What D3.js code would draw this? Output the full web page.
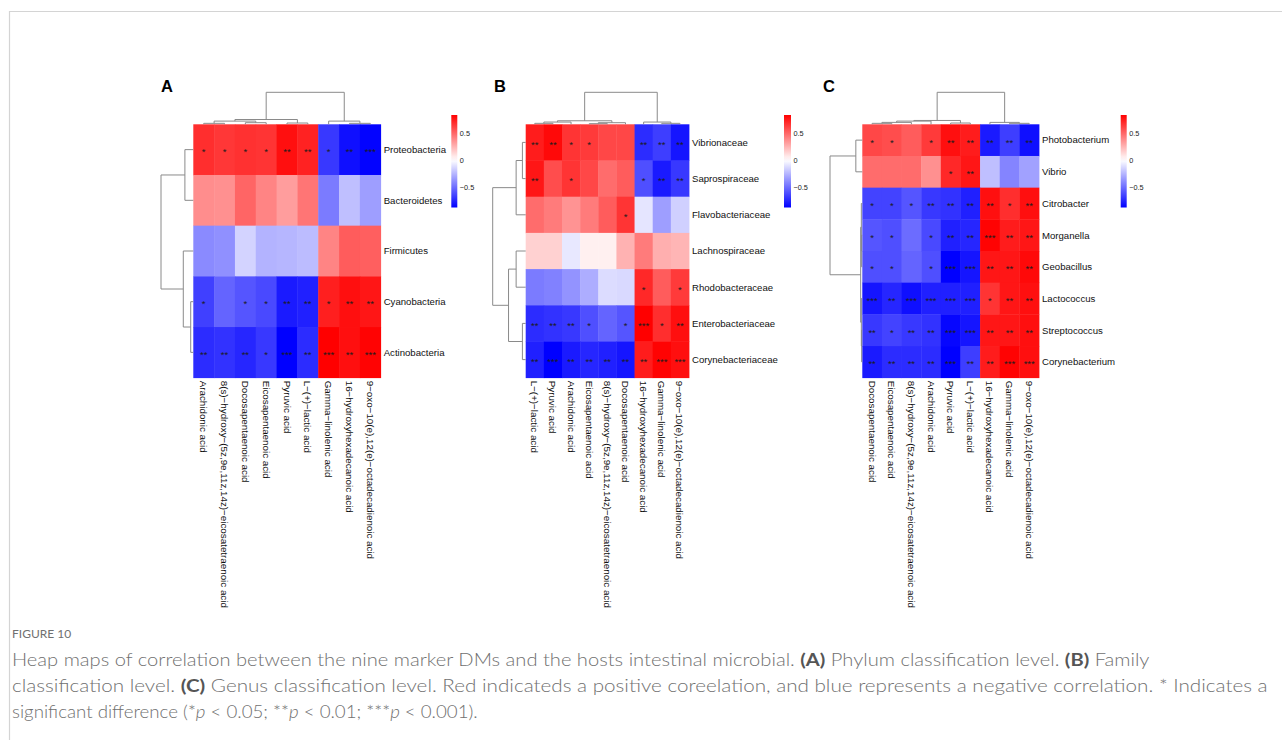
<!DOCTYPE html>
<html>
<head>
<meta charset="utf-8">
<script src="https://cdn.jsdelivr.net/npm/d3@7"></script>
<style>
  body { margin: 0; background: #fff; }
  svg { display: block; }
</style>
</head>
<body>
<script>
const width = 1282;
const height = 740;

// metabolite names (column labels)
const ARA = 'Arachidonic acid';
const HETE = '8(s)−hydroxy−(5z,9e,11z,14z)−eicosatetraenoic acid';
const DPA = 'Docosapentaenoic acid';
const EPA = 'Eicosapentaenoic acid';
const PYR = 'Pyruvic acid';
const LAC = 'L−(+)−lactic acid';
const GLA = 'Gamma−linolenic acid';
const HHD = '16−hydroxyhexadecanoic acid';
const OXO = '9−oxo−10(e),12(e)−octadecadienoic acid';

// colour legend
const legendDomain = [-0.87, 0, 0.83];
const legendTicks = [0.5, 0, -0.5];

// ---- panel A : phylum ----
const colsA = [ARA, HETE, DPA, EPA, PYR, LAC, GLA, HHD, OXO];
const rowsA = ['Proteobacteria', 'Bacteroidetes', 'Firmicutes', 'Cyanobacteria', 'Actinobacteria'];
const valuesA = [
  [0.68, 0.65, 0.67, 0.66, 0.78, 0.72, -0.68, -0.82, -0.86],
  [0.37, 0.36, 0.50, 0.40, 0.32, 0.45, -0.45, -0.22, -0.33],
  [-0.40, -0.38, -0.15, -0.26, -0.25, -0.23, 0.40, 0.53, 0.52],
  [-0.65, -0.53, -0.58, -0.62, -0.78, -0.76, 0.73, 0.78, 0.76],
  [-0.72, -0.70, -0.74, -0.68, -0.87, -0.72, 0.83, 0.78, 0.82]
];
const sigA = [
  [1, 1, 1, 1, 2, 2, 1, 2, 3],
  [0, 0, 0, 0, 0, 0, 0, 0, 0],
  [0, 0, 0, 0, 0, 0, 0, 0, 0],
  [1, 0, 1, 1, 2, 2, 1, 2, 2],
  [2, 2, 2, 1, 3, 2, 3, 2, 3]
];
// trees: [left, right, height], leaves are display indices
const colTreeA = [[[[0, 1, 0.03], [2, 3, 0.05], 0.1], [4, 5, 0.04], 0.15], [6, [7, 8, 0.03], 0.1], 1];
const rowTreeA = [[0, 1, 0.26], [2, [3, 4, 0.08], 0.31], 1];

// ---- panel B : family ----
const colsB = [LAC, PYR, ARA, EPA, HETE, DPA, HHD, GLA, OXO];
const rowsB = ['Vibrionaceae', 'Saprospiraceae', 'Flavobacteriaceae', 'Lachnospiraceae',
  'Rhodobacteraceae', 'Enterobacteriaceae', 'Corynebacteriaceae'];
const valuesB = [
  [0.74, 0.80, 0.66, 0.64, 0.60, 0.60, -0.72, -0.66, -0.80],
  [0.76, 0.58, 0.66, 0.60, 0.48, 0.53, -0.60, -0.78, -0.68],
  [0.48, 0.43, 0.35, 0.43, 0.53, 0.66, -0.09, -0.33, -0.16],
  [0.15, 0.15, -0.08, 0.05, 0.05, 0.25, 0.43, 0.26, 0.24],
  [-0.45, -0.43, -0.37, -0.28, -0.12, -0.13, 0.70, 0.53, 0.64],
  [-0.72, -0.70, -0.68, -0.60, -0.53, -0.58, 0.83, 0.68, 0.78],
  [-0.76, -0.87, -0.78, -0.74, -0.76, -0.80, 0.74, 0.82, 0.78]
];
const sigB = [
  [2, 2, 1, 1, 0, 0, 2, 2, 2],
  [2, 0, 1, 0, 0, 0, 1, 2, 2],
  [0, 0, 0, 0, 0, 1, 0, 0, 0],
  [0, 0, 0, 0, 0, 0, 0, 0, 0],
  [0, 0, 0, 0, 0, 0, 1, 0, 1],
  [2, 2, 2, 1, 0, 1, 3, 1, 2],
  [2, 3, 2, 2, 2, 2, 2, 3, 3]
];
const colTreeB = [[[[0, 1, 0.03], 2, 0.07], [[3, 4, 0.02], 5, 0.05], 0.11], [6, [7, 8, 0.03], 0.07], 1];
const rowTreeB = [[[0, 1, 0.10], 2, 0.29], [[3, 4, 0.29], [5, 6, 0.10], 0.52], 1];

// ---- panel C : genus ----
const colsC = [DPA, EPA, HETE, ARA, PYR, LAC, HHD, GLA, OXO];
const rowsC = ['Photobacterium', 'Vibrio', 'Citrobacter', 'Morganella', 'Geobacillus',
  'Lactococcus', 'Streptococcus', 'Corynebacterium'];
const valuesC = [
  [0.60, 0.58, 0.53, 0.64, 0.78, 0.74, -0.78, -0.66, -0.82],
  [0.48, 0.48, 0.48, 0.36, 0.70, 0.76, -0.22, -0.42, -0.32],
  [-0.64, -0.64, -0.58, -0.68, -0.70, -0.76, 0.78, 0.68, 0.78],
  [-0.58, -0.60, -0.50, -0.62, -0.76, -0.74, 0.82, 0.74, 0.76],
  [-0.60, -0.60, -0.53, -0.60, -0.87, -0.80, 0.76, 0.76, 0.80],
  [-0.80, -0.74, -0.82, -0.76, -0.76, -0.76, 0.66, 0.76, 0.78],
  [-0.68, -0.64, -0.68, -0.70, -0.85, -0.80, 0.76, 0.76, 0.78],
  [-0.78, -0.72, -0.72, -0.72, -0.87, -0.66, 0.74, 0.82, 0.78]
];
const sigC = [
  [1, 1, 0, 1, 2, 2, 2, 2, 2],
  [0, 0, 0, 0, 1, 2, 0, 0, 0],
  [1, 1, 1, 2, 2, 2, 2, 1, 2],
  [1, 1, 0, 1, 2, 2, 3, 2, 2],
  [1, 1, 0, 1, 3, 3, 2, 2, 2],
  [3, 2, 3, 3, 3, 3, 1, 2, 2],
  [2, 1, 2, 2, 3, 3, 2, 2, 2],
  [2, 2, 2, 2, 3, 2, 2, 3, 3]
];
const colTreeC = [[[[[0, 1, 0.03], 2, 0.06], 3, 0.1], [4, 5, 0.04], 0.12], [6, [7, 8, 0.03], 0.06], 1];
const rowTreeC = [[0, 1, 0.2], [[2, [3, 4, 0.02], 0.03], [5, [6, 7, 0.02], 0.03], 0.05], 1];

// layout of each panel
const panels = [
  { tag: 'A', cols: colsA, rows: rowsA, values: valuesA, sig: sigA, colTree: colTreeA, rowTree: rowTreeA,
    x0: 193.3, x1: 380.7, y0: 124.3, y1: 377.7, dendTop: 92.3, dendLeft: 161, lx: 451.3, lw: 6, tagX: 161 },
  { tag: 'B', cols: colsB, rows: rowsB, values: valuesB, sig: sigB, colTree: colTreeB, rowTree: rowTreeB,
    x0: 525.7, x1: 689, y0: 124.3, y1: 377.7, dendTop: 92.3, dendLeft: 492.7, lx: 784, lw: 7, tagX: 494 },
  { tag: 'C', cols: colsC, rows: rowsC, values: valuesC, sig: sigC, colTree: colTreeC, rowTree: rowTreeC,
    x0: 862.3, x1: 1039, y0: 124.3, y1: 377.7, dendTop: 92.3, dendLeft: 830, lx: 1120.7, lw: 6, tagX: 823 }
];

const color = d3.scaleLinear()
  .domain(legendDomain)
  .range(['#0000ff', '#ffffff', '#ff0000']);

const svg = d3.select('body').append('svg')
  .attr('width', width)
  .attr('height', height);

// frame of the figure box
svg.append('path')
  .attr('d', 'M9.5,740V11.5H1282')
  .attr('fill', 'none')
  .attr('stroke', '#d4d4d4')
  .attr('stroke-width', 1.2);

// gradient for the colour keys
const grad = svg.append('defs').append('linearGradient')
  .attr('id', 'key').attr('x1', 0).attr('x2', 0).attr('y1', 1).attr('y2', 0);
d3.range(0, 1.0001, 0.05).forEach(t => {
  const v = legendDomain[0] + t * (legendDomain[2] - legendDomain[0]);
  grad.append('stop').attr('offset', t).attr('stop-color', color(v));
});

// draws a dendrogram, returns position of the node
function drawTree(g, node, pos, hs, orient) {
  if (typeof node === 'number') return { c: pos(node), h: 0 };
  const a = drawTree(g, node[0], pos, hs, orient);
  const b = drawTree(g, node[1], pos, hs, orient);
  const h = node[2];
  const d = orient === 'top'
    ? `M${a.c},${hs(a.h)}V${hs(h)}H${b.c}V${hs(b.h)}`
    : `M${hs(a.h)},${a.c}H${hs(h)}V${b.c}H${hs(b.h)}`;
  g.append('path').attr('d', d)
    .attr('fill', 'none').attr('stroke', '#8a8a8a').attr('stroke-width', 1);
  return { c: (a.c + b.c) / 2, h };
}

panels.forEach(p => {
  const g = svg.append('g');
  const x = d3.scaleBand().domain(d3.range(p.cols.length)).range([p.x0, p.x1]);
  const y = d3.scaleBand().domain(d3.range(p.rows.length)).range([p.y0, p.y1]);

  const cells = [];
  p.values.forEach((row, i) => row.forEach((v, j) => cells.push({ i, j, v, s: p.sig[i][j] })));

  g.selectAll('rect.cell')
    .data(cells)
    .enter()
    .append('rect')
    .attr('x', d => x(d.j))
    .attr('y', d => y(d.i))
    .attr('width', x.bandwidth() + 0.4)
    .attr('height', y.bandwidth() + 0.4)
    .attr('fill', d => color(d.v));

  g.selectAll('text.star')
    .data(cells.filter(d => d.s > 0))
    .enter()
    .append('text')
    .attr('x', d => x(d.j) + x.bandwidth() / 2)
    .attr('y', d => y(d.i) + y.bandwidth() / 2 + 5.4)
    .attr('text-anchor', 'middle')
    .attr('font-family', 'Liberation Sans, Arial, sans-serif')
    .attr('font-size', 9.5)
    .attr('fill', '#1c1c1c')
    .text(d => '*'.repeat(d.s));

  // row labels
  g.selectAll('text.row')
    .data(p.rows)
    .enter()
    .append('text')
    .attr('x', p.x1 + 3)
    .attr('y', (d, i) => y(i) + y.bandwidth() / 2)
    .attr('dy', '0.35em')
    .attr('font-family', 'Liberation Sans, Arial, sans-serif')
    .attr('font-size', 9.6)
    .attr('fill', '#111')
    .text(d => d);

  // column labels, read top to bottom
  g.selectAll('text.col')
    .data(p.cols)
    .enter()
    .append('text')
    .attr('transform', (d, j) => `translate(${x(j) + x.bandwidth() / 2},${p.y1 + 3}) rotate(90)`)
    .attr('dy', '0.35em')
    .attr('font-family', 'Liberation Sans, Arial, sans-serif')
    .attr('font-size', 9.8)
    .attr('fill', '#111')
    .text(d => d);

  // dendrograms
  const colH = d3.scaleLinear().domain([0, 1]).range([p.y0, p.dendTop]);
  drawTree(g, p.colTree, j => x(j) + x.bandwidth() / 2, colH, 'top');
  const rowH = d3.scaleLinear().domain([0, 1]).range([p.x0, p.dendLeft]);
  drawTree(g, p.rowTree, i => y(i) + y.bandwidth() / 2, rowH, 'left');

  // colour key
  const ly = d3.scaleLinear().domain([legendDomain[0], legendDomain[2]]).range([207.5, 115]);
  g.append('rect')
    .attr('x', p.lx).attr('y', ly(legendDomain[2]))
    .attr('width', p.lw).attr('height', ly(legendDomain[0]) - ly(legendDomain[2]))
    .attr('fill', 'url(#key)');
  g.selectAll('text.tick')
    .data(legendTicks)
    .enter()
    .append('text')
    .attr('x', p.lx + p.lw + 2.5)
    .attr('y', d => ly(d))
    .attr('dy', '0.35em')
    .attr('font-family', 'Liberation Sans, Arial, sans-serif')
    .attr('font-size', 7.3)
    .attr('fill', '#222')
    .text(d => d < 0 ? '−' + Math.abs(d) : d);

  // panel tag
  g.append('text')
    .attr('x', p.tagX).attr('y', 92)
    .attr('font-family', 'Liberation Sans, Arial, sans-serif')
    .attr('font-weight', 'bold')
    .attr('font-size', 16.5)
    .attr('fill', '#000')
    .text(p.tag);
});

// caption
const capFont = 'Lato, "Open Sans", sans-serif';
const capColor = '#707070';
svg.append('text')
  .attr('x', 12).attr('y', 638)
  .attr('font-family', capFont)
  .attr('font-size', 12)
  .attr('fill', capColor)
  .text('FIGURE 10');

const captionLines = [
  [['Heap maps of correlation between the nine marker DMs and the hosts intestinal microbial. ', ''],
   ['(A)', 'b'], [' Phylum classification level. ', ''], ['(B)', 'b'], [' Family', '']],
  [['classification level. ', ''], ['(C)', 'b'],
   [' Genus classification level. Red indicateds a positive coreelation, and blue represents a negative correlation. * Indicates a', '']],
  [['significant difference (*', ''], ['p', 'i'], [' < 0.05; **', ''], ['p', 'i'], [' < 0.01; ***', ''], ['p', 'i'], [' < 0.001).', '']]
];
const captionRight = [1150, 1268, 478];

captionLines.forEach((parts, k) => {
  const t = svg.append('text')
    .attr('x', 12).attr('y', 666 + k * 25.8)
    .attr('font-family', capFont)
    .attr('font-weight', 300)
    .attr('font-size', 17)
    .attr('fill', capColor);
  parts.forEach(([s, f]) => {
    t.append('tspan')
      .attr('font-weight', f === 'b' ? 'bold' : null)
      .attr('font-style', f === 'i' ? 'italic' : null)
      .attr('fill', f === 'b' ? '#555' : null)
      .text(s);
  });
  const w = t.node().getComputedTextLength();
  const sx = (captionRight[k] - 12) / w;
  t.attr('transform', `translate(12,0) scale(${sx},1) translate(-12,0)`);
});
</script>
</body>
</html>
